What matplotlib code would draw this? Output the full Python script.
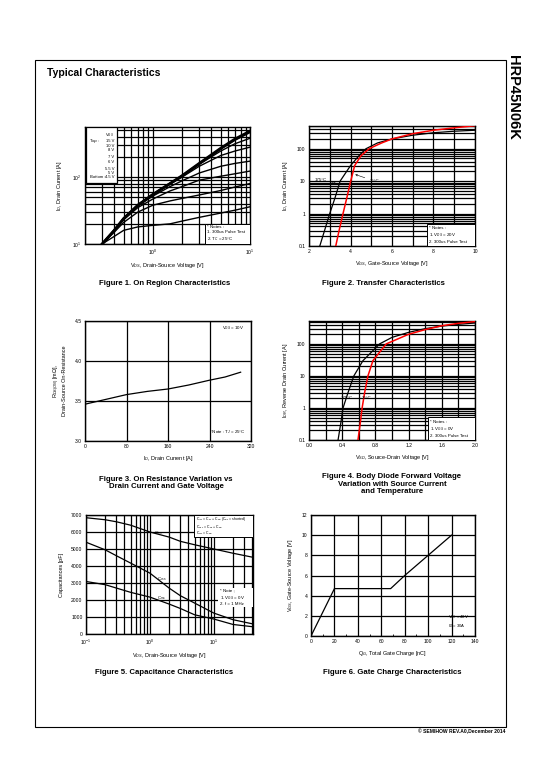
import numpy as np
import matplotlib
matplotlib.use('Agg')
import matplotlib.pyplot as plt
from matplotlib.ticker import LogLocator, MultipleLocator, NullFormatter, FuncFormatter
from matplotlib.patches import Rectangle

plt.rcParams['font.family'] = ['Liberation Sans', 'DejaVu Sans']
plt.rcParams['mathtext.fontset'] = 'custom'
plt.rcParams['mathtext.rm'] = 'Liberation Sans'
plt.rcParams['mathtext.it'] = 'Liberation Sans:italic'
plt.rcParams['mathtext.bf'] = 'Liberation Sans:bold'

# ---- data ----
# Fig 1: on region, ID vs VDS for several VGS
vds1 = [0.3, 0.4, 0.5, 0.7, 1, 1.5, 2, 3, 5, 7, 10]
vgs_labels = ['15 V', '10 V', '8 V', '7 V', '6 V', '5.5 V', '5 V', '4.5 V']
id_15v = [10, 16, 24, 38, 55, 80, 105, 160, 270, 370, 485]
id_10v = [10, 16, 24, 38, 55, 80, 104, 158, 265, 360, 470]
id_8v = [10, 16, 24, 38, 55, 80, 104, 155, 245, 315, 380]
id_7v = [10, 16, 24, 38, 55, 78, 100, 145, 210, 245, 280]
id_6v = [10, 16, 24, 37, 52, 72, 88, 115, 145, 160, 173]
id_55v = [10, 16, 23, 35, 47, 62, 72, 90, 103, 112, 123]
id_5v = [10, 15, 21, 30, 38, 44, 48, 54, 63, 71, 80]
id_45v = [10, 13, 16, 18, 19, 20, 22, 25, 29, 32, 36]

# Fig 2: transfer characteristics
vgs_25c = [3.29, 3.45, 3.64, 3.82, 4.01, 4.2, 4.5, 4.9, 5.5, 6, 7, 8, 9, 10]
id_25c = [0.1, 0.3, 1, 3, 10, 30, 60, 100, 150, 200, 290, 370, 440, 510]
vgs_175c = [2.52, 2.75, 3.0, 3.25, 3.5, 4.0, 4.4, 4.75, 5.3, 6, 7, 8, 9, 10]
id_175c = [0.1, 0.3, 1, 3, 10, 30, 60, 100, 150, 200, 260, 310, 345, 370]

# Fig 3: on resistance vs drain current
id3 = [0, 40, 80, 120, 160, 200, 240, 270, 300]
rds3 = [3.46, 3.52, 3.58, 3.62, 3.65, 3.70, 3.76, 3.80, 3.86]

# Fig 4: body diode forward voltage
vsd_175c = [0.35, 0.38, 0.41, 0.47, 0.54, 0.65, 0.85, 1.0, 1.2, 1.4, 1.6, 1.8, 2.0]
isd_175c = [0.1, 0.3, 1, 3, 10, 30, 100, 160, 230, 300, 360, 410, 450]
vsd_25c = [0.59, 0.615, 0.64, 0.67, 0.71, 0.77, 0.93, 1.2, 1.4, 1.6, 1.8, 2.0]
isd_25c = [0.1, 0.3, 1, 3, 10, 30, 100, 200, 280, 370, 440, 500]

# Fig 5: capacitances
vds5 = [0.1, 0.2, 0.3, 0.5, 1, 2, 3, 5, 10, 20, 40]
ciss = [6840, 6720, 6600, 6400, 6000, 5700, 5450, 5250, 5000, 4750, 4520]
coss = [5400, 4950, 4600, 4170, 3580, 2700, 2250, 1820, 1230, 840, 600]
crss = [3090, 2900, 2700, 2450, 2170, 1760, 1500, 1130, 880, 560, 430]

# Fig 6: gate charge
qg = [0, 20, 68, 80, 100, 120]
vgs6 = [0, 4.7, 4.7, 6, 8, 10]

W, H = 540, 780


def box(l, t, r, b):
    return [l / W, 1 - b / H, (r - l) / W, (b - t) / H]


def style(ax, minor_grid=True):
    ax.tick_params(which='both', direction='in', length=0, labelsize=3.6, pad=2.5)
    for s in ax.spines.values():
        s.set_linewidth(1.0)
    ax.grid(which='major', color='black', lw=0.9)
    if minor_grid:
        ax.grid(which='minor', color='black', lw=0.9)


def note(ax, x0, y0, x1, y1, lines, x_text, border=True, fs=3.2, ls=1.3):
    # white box with the note text as one multi-line block
    ax.add_patch(Rectangle((x0, y0), x1 - x0, y1 - y0, transform=ax.transAxes,
                           fc='white', ec='black' if border else 'none',
                           lw=0.7, zorder=5, clip_on=False))
    ax.text(x_text, (y0 + y1) / 2, '\n'.join(lines), transform=ax.transAxes,
            fontsize=fs, va='center', ha='left', zorder=6, linespacing=ls)


def fmt_g(v, p):
    return f'{v:g}'


fig = plt.figure(figsize=(5.4, 7.8), dpi=100)

# page frame and titles
fig.add_artist(Rectangle((35 / W, 1 - 727 / H), (506 - 35) / W, (727 - 60) / H,
                         transform=fig.transFigure, fill=False, lw=0.8, ec='black'))
fig.text(47 / W, 1 - 73 / H, 'Typical Characteristics', fontsize=7.5,
         fontweight='bold', va='center', ha='left')
fig.text(513 / W, 1 - 55 / H, 'HRP45N06K', fontsize=10.5, fontweight='bold',
         rotation=-90, va='top', ha='center')
fig.text(505 / W, 1 - 731 / H, '\u00a9 SEMIHOW REV.A0,December 2014',
         fontsize=3.6, fontweight='bold', ha='right', va='center')

lab = 4.0
cap = 5.6

# ---- Figure 1 ----
ax1 = fig.add_axes(box(85, 127, 250, 244))
ax1.set_xscale('log')
ax1.set_yscale('log')
ax1.set_xlim(0.2, 10)
ax1.set_ylim(10, 560)
ax1.xaxis.set_minor_locator(LogLocator(base=10, subs=np.arange(2, 10)))
ax1.yaxis.set_minor_locator(LogLocator(base=10, subs=np.arange(2, 10)))
ax1.xaxis.set_minor_formatter(NullFormatter())
ax1.yaxis.set_minor_formatter(NullFormatter())
style(ax1)
curves1 = [id_15v, id_10v, id_8v, id_7v, id_6v, id_55v, id_5v, id_45v]
widths1 = [2.0, 1.6, 1.0, 1.0, 1.0, 1.0, 1.0, 1.0]
for vals, lw in zip(curves1, widths1):
    ax1.plot(vds1, vals, color='black', lw=lw, zorder=3)
ax1.add_patch(Rectangle((0.006, 0.52), 0.188, 0.48, transform=ax1.transAxes,
                        fc='white', ec='black', lw=0.9, zorder=5))
ax1.text(0.176, 0.93, 'V$_{GS}$', transform=ax1.transAxes, fontsize=3.0,
         ha='right', va='center', zorder=6)
leg_y = [0.88, 0.84, 0.80, 0.74, 0.70, 0.645, 0.61, 0.57]
for t, y in zip(vgs_labels, leg_y):
    ax1.text(0.176, y, t, transform=ax1.transAxes, fontsize=3.0,
             ha='right', va='center', zorder=6)
ax1.text(0.03, 0.88, 'Top :', transform=ax1.transAxes, fontsize=3.0,
         ha='left', va='center', zorder=6)
ax1.text(0.03, 0.57, 'Bottom :', transform=ax1.transAxes, fontsize=3.0,
         ha='left', va='center', zorder=6)
note(ax1, 0.727, 0.0, 1.0, 0.17,
     ['* Notes :', '1. 300us Pulse Test', '2. T$_C$ = 25\u00b0C'], 0.74)
ax1.set_xlabel('V$_{DS}$, Drain-Source Voltage [V]', fontsize=lab, labelpad=3)
ax1.set_ylabel('I$_D$, Drain Current [A]', fontsize=lab, labelpad=6)
fig.text(165 / W, 1 - 283 / H, 'Figure 1. On Region Characteristics',
         fontsize=cap, fontweight='bold', ha='center', va='center')

# ---- Figure 2 ----
ax2 = fig.add_axes(box(309, 126, 475, 246))
ax2.set_yscale('log')
ax2.set_xlim(2, 10)
ax2.set_ylim(0.1, 500)
ax2.xaxis.set_major_locator(MultipleLocator(2))
ax2.xaxis.set_minor_locator(MultipleLocator(1))
ax2.yaxis.set_minor_locator(LogLocator(base=10, subs=np.arange(2, 10)))
ax2.yaxis.set_major_formatter(FuncFormatter(fmt_g))
ax2.yaxis.set_minor_formatter(NullFormatter())
style(ax2)
ax2.plot(vgs_175c, id_175c, color='black', lw=0.9, zorder=3)
ax2.plot(vgs_25c, id_25c, color='red', lw=1.1, zorder=3)
ax2.annotate('175\u00b0C', xy=(3.45, 8), xytext=(2.25, 11), fontsize=3.2,
             va='center', arrowprops=dict(arrowstyle='->', lw=0.4, color='black'))
ax2.annotate('25\u00b0C', xy=(4.1, 17), xytext=(4.95, 10), fontsize=3.2,
             va='center', arrowprops=dict(arrowstyle='->', lw=0.4, color='black'))
note(ax2, 0.71, 0.0, 1.0, 0.18,
     ['* Notes :', '1. V$_{DS}$ = 20V', '2. 300us Pulse Test'], 0.72)
ax2.set_xlabel('V$_{GS}$, Gate-Source Voltage [V]', fontsize=lab, labelpad=3)
ax2.set_ylabel('I$_D$, Drain Current [A]', fontsize=lab, labelpad=5)
fig.text(383 / W, 1 - 283 / H, 'Figure 2. Transfer Characteristics',
         fontsize=cap, fontweight='bold', ha='center', va='center')

# ---- Figure 3 ----
ax3 = fig.add_axes(box(85, 321, 251, 441))
ax3.set_xlim(0, 320)
ax3.set_ylim(3.0, 4.5)
ax3.xaxis.set_major_locator(MultipleLocator(80))
ax3.yaxis.set_major_locator(MultipleLocator(0.5))
ax3.yaxis.set_major_formatter(FuncFormatter(lambda v, p: f'{v:.1f}'))
style(ax3, minor_grid=False)
ax3.plot(id3, rds3, color='black', lw=0.9, zorder=3)
ax3.text(0.96, 0.94, 'V$_{GS}$ = 10V', transform=ax3.transAxes, fontsize=3.2,
         ha='right', va='center')
ax3.text(0.97, 0.07, '* Note : T$_J$ = 25\u00b0C', transform=ax3.transAxes,
         fontsize=3.2, ha='right', va='center')
ax3.set_xlabel('I$_D$, Drain Current [A]', fontsize=lab, labelpad=3)
ax3.set_ylabel('R$_{DS(ON)}$ [m\u03a9],\nDrain-Source On-Resistance',
               fontsize=lab, labelpad=5, linespacing=1.1)
fig.text(166 / W, 1 - 483 / H,
         'Figure 3. On Resistance Variation vs\nDrain Current and Gate Voltage',
         fontsize=cap, fontweight='bold', ha='center', va='center', linespacing=1.15)

# ---- Figure 4 ----
ax4 = fig.add_axes(box(309, 321, 475, 440))
ax4.set_yscale('log')
ax4.set_xlim(0, 2.0)
ax4.set_ylim(0.1, 520)
ax4.xaxis.set_major_locator(MultipleLocator(0.4))
ax4.xaxis.set_minor_locator(MultipleLocator(0.2))
ax4.xaxis.set_major_formatter(FuncFormatter(lambda v, p: f'{v:.1f}'))
ax4.yaxis.set_minor_locator(LogLocator(base=10, subs=np.arange(2, 10)))
ax4.yaxis.set_major_formatter(FuncFormatter(fmt_g))
ax4.yaxis.set_minor_formatter(NullFormatter())
style(ax4)
ax4.plot(vsd_175c, isd_175c, color='black', lw=0.9, zorder=3)
ax4.plot(vsd_25c, isd_25c, color='red', lw=1.1, zorder=3)
ax4.text(0.46, 2.0, '175\u00b0C', fontsize=3.2, ha='center', va='center')
ax4.text(0.69, 2.0, '25\u00b0C', fontsize=3.2, ha='center', va='center')
note(ax4, 0.717, 0.0, 1.0, 0.19,
     ['* Notes :', '1. V$_{GS}$ = 0V', '2. 300us Pulse Test'], 0.73)
ax4.set_xlabel('V$_{SD}$, Source-Drain Voltage [V]', fontsize=lab, labelpad=3)
ax4.set_ylabel('I$_{DR}$, Reverse Drain Current [A]', fontsize=lab, labelpad=5)
fig.text(392 / W, 1 - 484 / H,
         'Figure 4. Body Diode Forward Voltage\nVariation with Source Current\nand Temperature',
         fontsize=cap, fontweight='bold', ha='center', va='center', linespacing=1.15)

# ---- Figure 5 ----
ax5 = fig.add_axes(box(86, 515, 253, 634))
ax5.set_xscale('log')
ax5.set_xlim(0.1, 41)
ax5.set_ylim(0, 7000)
ax5.xaxis.set_minor_locator(LogLocator(base=10, subs=np.arange(2, 10)))
ax5.xaxis.set_minor_formatter(NullFormatter())
ax5.yaxis.set_major_locator(MultipleLocator(1000))
style(ax5)
ax5.plot(vds5, ciss, color='black', lw=0.9, zorder=3)
ax5.plot(vds5, coss, color='black', lw=0.9, zorder=3)
ax5.plot(vds5, crss, color='black', lw=0.9, zorder=3)
ax5.text(1.15, 5950, 'C$_{iss}$', fontsize=3.2, va='center')
ax5.text(1.3, 3250, 'C$_{oss}$', fontsize=3.2, va='center')
ax5.text(1.3, 2080, 'C$_{rss}$', fontsize=3.2, va='center')
note(ax5, 0.647, 0.815, 1.0, 1.0,
     ['C$_{iss}$ = C$_{gs}$ + C$_{gd}$ (C$_{ds}$ = shorted)',
      'C$_{oss}$ = C$_{ds}$ + C$_{gd}$', 'C$_{rss}$ = C$_{gd}$'],
     0.66, fs=2.5, ls=0.9)
note(ax5, 0.79, 0.227, 1.0, 0.387,
     ['* Note ;', '1. V$_{GS}$ = 0 V', '2. f = 1 MHz'], 0.8, border=False)
ax5.set_xlabel('V$_{DS}$, Drain-Source Voltage [V]', fontsize=lab, labelpad=3)
ax5.set_ylabel('Capacitances [pF]', fontsize=lab, labelpad=5)
fig.text(164 / W, 1 - 672 / H, 'Figure 5. Capacitance Characteristics',
         fontsize=cap, fontweight='bold', ha='center', va='center')

# ---- Figure 6 ----
ax6 = fig.add_axes(box(311, 515, 475, 636))
ax6.set_xlim(0, 140)
ax6.set_ylim(0, 12)
ax6.xaxis.set_major_locator(MultipleLocator(20))
ax6.yaxis.set_major_locator(MultipleLocator(2))
style(ax6, minor_grid=False)
ax6.xaxis.set_minor_locator(MultipleLocator(10))
ax6.tick_params(axis='x', which='minor', length=1.5, width=0.6)
ax6.plot(qg, vgs6, color='black', lw=0.9, zorder=3)
ax6.text(0.835, 0.12, 'V$_{DS}$ = 48V\nI$_D$ = 30A', transform=ax6.transAxes,
         fontsize=3.0, va='center', linespacing=1.3)
ax6.set_xlabel('Q$_G$, Total Gate Charge [nC]', fontsize=lab, labelpad=3)
ax6.set_ylabel('V$_{GS}$, Gate-Source Voltage [V]', fontsize=lab, labelpad=5)
fig.text(392 / W, 1 - 672 / H, 'Figure 6. Gate Charge Characteristics',
         fontsize=cap, fontweight='bold', ha='center', va='center')

fig.savefig('out.png', dpi=100)
